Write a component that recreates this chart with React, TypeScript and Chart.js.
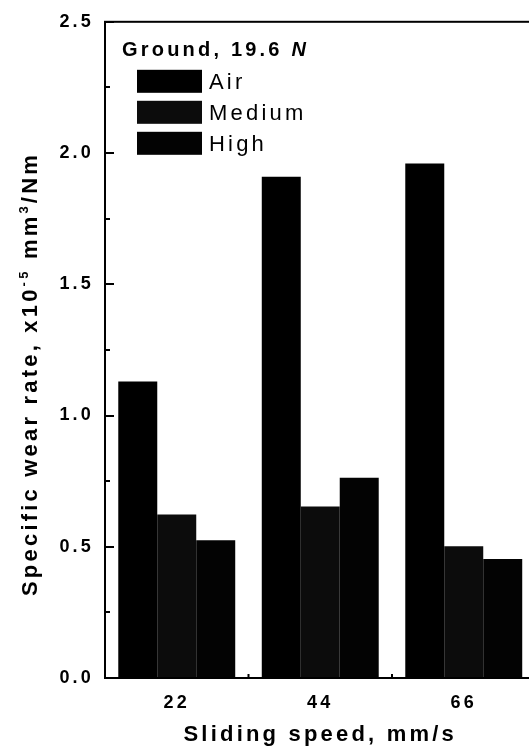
import React, { useEffect, useRef } from 'react';
import { Chart, registerables } from 'chart.js';

Chart.register(...registerables);

// ---- data ----
const categories = ['22', '44', '66'];
const seriesNames = ['Air', 'Medium', 'High'];
const airValues = [1.13, 1.91, 1.96];
const mediumValues = [0.623, 0.653, 0.502];
const highValues = [0.525, 0.763, 0.453];
const seriesColors = ['#000000', '#0c0c0c', '#030303'];

const yMin = 0;
const yMax = 2.5;
const yMajorStep = 0.5;
const yMinorStep = 0.25;

const legendTitleMain = 'Ground, 19.6 ';
const legendTitleItalic = 'N';
const xTitle = 'Sliding speed, mm/s';
const yTitleParts = [
  { text: 'Specific wear rate, x10', sup: false },
  { text: '-5', sup: true },
  { text: ' mm', sup: false },
  { text: '3', sup: true },
  { text: '/Nm', sup: false },
];

const FONT = "'Liberation Sans', Arial, Helvetica, sans-serif";
const SPACING = '3.2px';

const decorPlugin = {
  id: 'decor',
  beforeDraw(chart: any) {
    (chart.ctx as any).letterSpacing = SPACING;
  },
  afterDraw(chart: any) {
    const ctx = chart.ctx as CanvasRenderingContext2D & { letterSpacing?: string };
    const { left, right, top, bottom } = chart.chartArea;
    const yScale = chart.scales.y;
    const xScale = chart.scales.x;

    ctx.save();
    // frame
    ctx.strokeStyle = '#000';
    ctx.lineWidth = 2;
    ctx.strokeRect(left, top, right - left, bottom - top);

    // inward y ticks
    for (let v = yMin; v <= yMax + 1e-9; v += yMinorStep) {
      const y = Math.round(yScale.getPixelForValue(v));
      const major = Math.abs(v / yMajorStep - Math.round(v / yMajorStep)) < 1e-6;
      const len = major ? 9 : 5;
      ctx.beginPath();
      ctx.moveTo(left, y);
      ctx.lineTo(left + len, y);
      ctx.stroke();
    }
    // small x ticks at category boundaries
    for (let i = 0; i < categories.length - 1; i++) {
      const x = (xScale.getPixelForTick(i) + xScale.getPixelForTick(i + 1)) / 2;
      ctx.beginPath();
      ctx.moveTo(x, bottom);
      ctx.lineTo(x, bottom - 4);
      ctx.stroke();
    }

    // y-axis title with superscripts
    ctx.letterSpacing = SPACING;
    ctx.fillStyle = '#000';
    ctx.textBaseline = 'alphabetic';
    ctx.textAlign = 'left';
    const mainFont = `bold 22px ${FONT}`;
    const supFont = `bold 13px ${FONT}`;
    let total = 0;
    const widths = yTitleParts.map((p) => {
      ctx.font = p.sup ? supFont : mainFont;
      const w = ctx.measureText(p.text).width;
      total += w;
      return w;
    });
    ctx.translate(37, 374);
    ctx.rotate(-Math.PI / 2);
    let cx = -total / 2;
    yTitleParts.forEach((p, i) => {
      ctx.font = p.sup ? supFont : mainFont;
      ctx.fillText(p.text, cx, p.sup ? -9 : 0);
      cx += widths[i];
    });
    ctx.setTransform(1, 0, 0, 1, 0, 0);

    // legend inside plot
    const lx = left + 17;
    ctx.font = `bold 20px ${FONT}`;
    ctx.fillText(legendTitleMain, lx, top + 34);
    const w1 = ctx.measureText(legendTitleMain).width;
    ctx.font = `italic bold 20px ${FONT}`;
    ctx.fillText(legendTitleItalic, lx + w1, top + 34);

    ctx.font = `22px ${FONT}`;
    chart.data.datasets.forEach((ds: any, i: number) => {
      const by = top + 48 + i * 31;
      ctx.fillStyle = ds.backgroundColor;
      ctx.fillRect(left + 32, by, 65, 23);
      ctx.fillStyle = '#000';
      ctx.fillText(ds.label, left + 104, by + 19);
    });
    ctx.restore();
  },
};

export default function App() {
  const canvasRef = useRef<HTMLCanvasElement | null>(null);

  useEffect(() => {
    if (!canvasRef.current) return;
    const valueSets = [airValues, mediumValues, highValues];
    const chart = new Chart(canvasRef.current, {
      type: 'bar',
      data: {
        labels: categories,
        datasets: seriesNames.map((name, i) => ({
          label: name,
          data: valueSets[i],
          backgroundColor: seriesColors[i],
          borderWidth: 0,
          categoryPercentage: 0.815,
          barPercentage: 1.0,
        })),
      },
      options: {
        animation: false,
        responsive: false,
        devicePixelRatio: 1,
        layout: { padding: { top: 16, right: 9.5, bottom: 0, left: 0 } },
        plugins: {
          legend: { display: false },
          tooltip: { enabled: false },
          title: { display: false },
        },
        scales: {
          x: {
            type: 'category',
            offset: true,
            grid: { display: false, drawTicks: false },
            border: { display: false },
            ticks: {
              color: '#000',
              font: { family: FONT, size: 18, weight: 'bold' },
              padding: 14,
              maxRotation: 0,
            },
            title: {
              display: true,
              text: xTitle,
              color: '#000',
              font: { family: FONT, size: 22, weight: 'bold' },
              padding: { top: 0, bottom: 3 },
            },
            afterFit: (s: any) => {
              s.height = 73;
            },
          },
          y: {
            min: yMin,
            max: yMax,
            grid: { display: false, drawTicks: false },
            border: { display: false },
            ticks: {
              stepSize: yMajorStep,
              color: '#000',
              font: { family: FONT, size: 18, weight: 'bold' },
              padding: 11,
              callback: (v: any) => Number(v).toFixed(1),
            },
            afterFit: (s: any) => {
              s.width = 105;
            },
          },
        },
      },
      plugins: [decorPlugin],
    });
    return () => chart.destroy();
  }, []);

  return (
    <div
      style={{
        position: 'fixed',
        left: 0,
        top: 0,
        width: 529,
        height: 751,
        overflow: 'hidden',
        background: '#fff',
      }}
    >
      <canvas ref={canvasRef} width={545} height={751} style={{ display: 'block' }} />
    </div>
  );
}
